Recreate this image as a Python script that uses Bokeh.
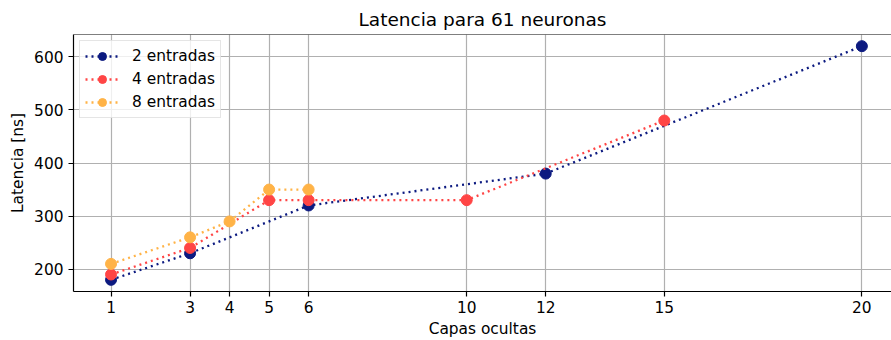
from bokeh.plotting import figure
from bokeh.models import FixedTicker, Span, Range1d
from bokeh.embed import file_html
from bokeh.resources import INLINE

# Latency measurements (ns) against number of hidden layers
x_ticks = [1, 3, 4, 5, 6, 10, 12, 15, 20]
y_ticks = [200, 300, 400, 500, 600]

capas_2 = [1, 3, 6, 12, 20]
lat_2 = [180, 230, 320, 380, 620]

capas_4 = [1, 3, 5, 6, 10, 15]
lat_4 = [190, 240, 330, 330, 330, 480]

capas_8 = [1, 3, 4, 5, 6]
lat_8 = [210, 260, 290, 350, 350]

series = [
    ("2 entradas", capas_2, lat_2, "#0c1a80"),
    ("4 entradas", capas_4, lat_4, "#ff4545"),
    ("8 entradas", capas_8, lat_8, "#ffb347"),
]

FONT = "DejaVu Sans"
TEXT = "15.4px"

p = figure(
    width=891, height=340,
    x_range=Range1d(0.05, 20.75), y_range=Range1d(158, 642),
    output_backend="svg", toolbar_location=None,
    title="Latencia para 61 neuronas",
    min_border_left=73, min_border_right=0,
    min_border_top=34, min_border_bottom=49,
    background_fill_color="white", border_fill_color="white",
)
p.outline_line_color = None

p.title.text_font = FONT
p.title.text_font_size = "18.5px"
p.title.text_font_style = "normal"
p.title.align = "center"
p.title.text_color = "black"

for ax in (p.xaxis, p.yaxis):
    ax.axis_line_color = "black"
    ax.axis_line_width = 1.2
    ax.major_tick_out = 5
    ax.major_tick_in = 0
    ax.major_tick_line_width = 1.2
    ax.minor_tick_line_color = None
    ax.major_label_text_font = FONT
    ax.major_label_text_font_size = TEXT
    ax.major_label_text_color = "black"
    ax.axis_label_text_font = FONT
    ax.axis_label_text_font_size = TEXT
    ax.axis_label_text_font_style = "normal"
    ax.axis_label_text_color = "black"

p.xaxis.ticker = FixedTicker(ticks=x_ticks)
p.yaxis.ticker = FixedTicker(ticks=y_ticks)
p.xaxis.axis_label = "Capas ocultas"
p.yaxis.axis_label = "Latencia [ns]"
p.xaxis.major_label_standoff = 4
p.xaxis.axis_label_standoff = 4
p.yaxis.major_label_standoff = 5
p.yaxis.axis_label_standoff = 4

p.xgrid.ticker = FixedTicker(ticks=x_ticks)
p.ygrid.ticker = FixedTicker(ticks=y_ticks)
for g in (p.xgrid, p.ygrid):
    g.grid_line_color = "#b0b0b0"
    g.grid_line_width = 1.2

# top spine
p.add_layout(Span(location=p.y_range.end, dimension="width",
                  line_color="black", line_width=1.2))

for label, xs, ys, color in series:
    p.line(xs, ys, line_color=color, line_width=2.3, line_dash="2 4",
           legend_label=label)
    p.scatter(xs, ys, size=11, fill_color=color, line_color=color,
              legend_label=label)

leg = p.legend[0]
leg.location = "top_left"
leg.margin = 6
leg.padding = 5
leg.spacing = 3
leg.label_height = 20
leg.glyph_height = 20
leg.glyph_width = 34
leg.label_standoff = 13
leg.label_text_font = FONT
leg.label_text_font_size = TEXT
leg.label_text_color = "black"
leg.border_line_color = "#cccccc"
leg.background_fill_alpha = 0.8

open("out.html", "w").write(file_html(p, INLINE))
